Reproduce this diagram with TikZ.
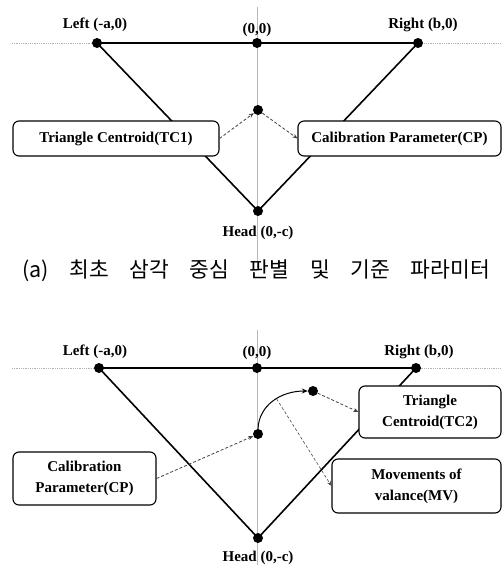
\documentclass[tikz,border=0pt]{standalone}
\usepackage{fontspec}
\setmainfont{Liberation Serif}
\newfontfamily\krfont{Noto Sans CJK KR}
\usetikzlibrary{arrows.meta}
\tikzset{
  dot/.style={circle,fill=black,inner sep=0pt,minimum size=10pt},
  lbl/.style={font=\fontsize{15pt}{17pt}\selectfont\bfseries,inner sep=0pt},
  box/.style={draw,rounded corners=6pt,fill=white,line width=1.1pt,align=center,
    font=\fontsize{15pt}{21pt}\selectfont\bfseries,inner sep=0pt},
  tri/.style={line width=1.6pt,black},
  vaxis/.style={gray!55,line width=0.7pt},
  haxis/.style={gray!60,densely dotted,line width=0.8pt},
  darr/.style={densely dashed,gray!50!black,line width=0.8pt,-{Stealth[length=5pt,width=4pt]}},
  marr/.style={densely dashed,gray!60!black,line width=0.6pt,-{Stealth[length=5pt,width=4pt]}},
  carr/.style={line width=1pt,black,-{Stealth[length=6pt,width=5pt]}}
}
\begin{document}
\begin{tikzpicture}[x=1pt,y=-1pt]
\useasboundingbox (0,0) rectangle (502,565);
% ---------- panel (a) ----------
\draw[vaxis] (257,7) -- (257,268);
\draw[haxis] (12,43) -- (502,43);
\node[dot] (aL) at (97,43) {};
\node[dot] (aO) at (257,43) {};
\node[dot] (aR) at (418,43) {};
\node[dot] (aM) at (258,110) {};
\node[dot] (aH) at (258,211) {};
\draw[tri] (aL.center) -- (aR.center);
\draw[tri] (aL.center) -- (aH.center) -- (aR.center);
\node[box,minimum width=206pt,minimum height=35pt] (tc1) at (116,138.5) {Triangle Centroid(TC1)};
\node[box,minimum width=203pt,minimum height=35pt] (cpa) at (399.5,138.5) {Calibration Parameter(CP)};
\draw[darr] (tc1.east) -- (aM);
\draw[darr] (aM) -- (cpa.west);
\node[lbl] (laL) at (95,25) {Left (-a,0)};
\node[lbl] (laO) at (257,30) {(0,0)};
\node[lbl] (laR) at (423,25) {Right (b,0)};
\node[lbl] (laH) at (258,233) {Head (0,-c)};
\node[font=\krfont\fontsize{21.5pt}{24pt}\selectfont,inner sep=0pt] (cap) at (256,271)
  {\makebox[468pt][s]{(a) 최초 삼각 중심 판별 및 기준 파라미터}};
% ---------- panel (b) ----------
\draw[vaxis] (257,330) -- (257,565);
\draw[haxis] (12,368) -- (502,368);
\node[dot] (bL) at (99,368) {};
\node[dot] (bO) at (257,368) {};
\node[dot] (bR) at (416,368) {};
\node[dot] (bM) at (258,434) {};
\node[dot] (bU) at (313,391) {};
\node[dot] (bH) at (258,538) {};
\draw[tri] (bL.center) -- (bR.center);
\draw[tri] (bL.center) -- (bH.center) -- (bR.center);
\node[box,minimum width=143pt,minimum height=53pt] (cpb) at (84.5,478.5) {Calibration\\Parameter(CP)};
\node[box,minimum width=142pt,minimum height=52pt] (tc2) at (430,412) {Triangle\\Centroid(TC2)};
\node[box,minimum width=169pt,minimum height=54pt] (mv) at (416.5,486) {Movements of\\valance(MV)};
\draw[carr] (bM.north) .. controls (259,405) and (281,391) .. coordinate[pos=0.56] (arcpt) (bU.west);
\draw[darr] (cpb.east) -- (bM);
\draw[darr] (bU) -- (tc2.west);
\draw[marr] (arcpt) -- (mv.west);
\node[lbl] (lbL) at (95,352) {Left (-a,0)};
\node[lbl] (lbO) at (257,353) {(0,0)};
\node[lbl] (lbR) at (419,352) {Right (b,0)};
\node[lbl] (lbH) at (258,558) {Head (0,-c)};
\end{tikzpicture}
\end{document}
